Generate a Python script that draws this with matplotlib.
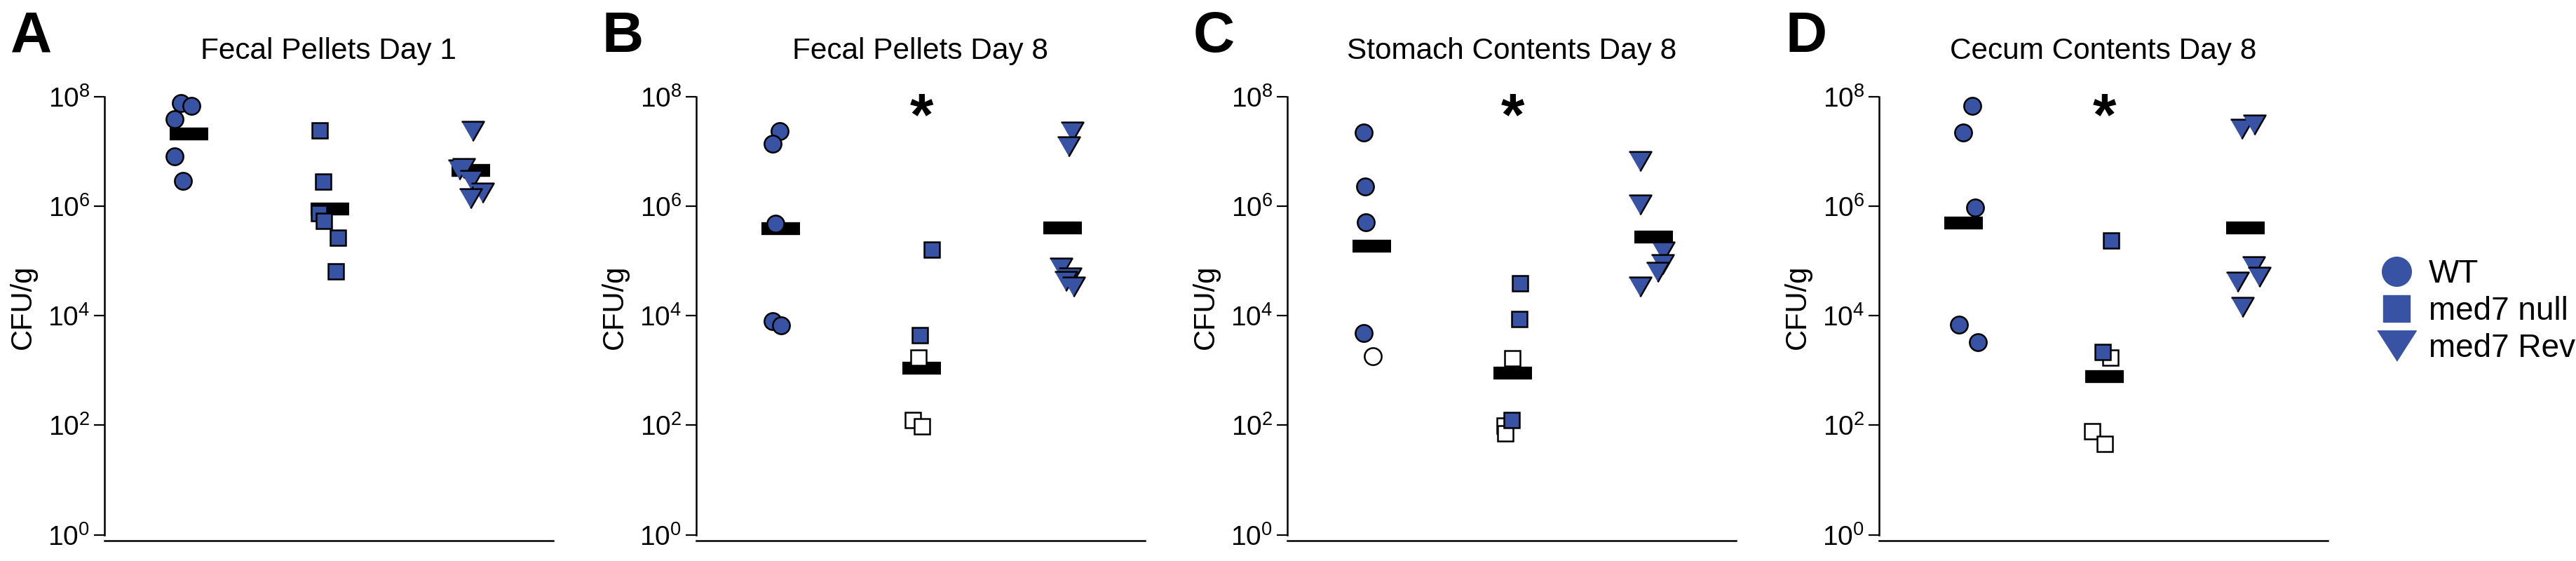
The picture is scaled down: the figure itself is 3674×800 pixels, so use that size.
import numpy as np
import matplotlib.pyplot as plt
from matplotlib.lines import Line2D
from matplotlib.ticker import NullLocator

plt.rcParams['font.family'] = ['Liberation Sans', 'DejaVu Sans']
plt.rcParams['mathtext.fontset'] = 'custom'
plt.rcParams['mathtext.rm'] = 'Liberation Sans'

# --- data (CFU/g) ---
panel_letters = ['A', 'B', 'C', 'D']
titles = ['Fecal Pellets Day 1', 'Fecal Pellets Day 8',
          'Stomach Contents Day 8', 'Cecum Contents Day 8']
groups = ['WT', 'med7 null', 'med7 Rev']
starred = [False, True, True, True]

wt_vals = [[7.69e7, 6.84e7, 3.86e7, 8.04e6, 2.91e6],
           [2.33e7, 1.38e7, 4.74e5, 8.05e3, 6.62e3],
           [2.23e7, 2.30e6, 5.04e5, 4.75e3, 1.79e3],
           [6.78e7, 2.23e7, 9.48e5, 6.82e3, 3.32e3]]
wt_open = [[0, 0, 0, 0, 0],
           [0, 0, 0, 0, 0],
           [0, 0, 0, 0, 1],
           [0, 0, 0, 0, 0]]
wt_jitter = [[-0.056, 0.019, -0.102, -0.102, -0.042],
             [-0.007, -0.058, -0.038, -0.056, 0.003],
             [-0.059, -0.049, -0.041, -0.056, 0.009],
             [0.062, -0.004, 0.083, -0.032, 0.100]]
wt_mean = [2.09e7, 3.85e5, 1.87e5, 4.97e5]

null_vals = [[2.43e7, 2.78e6, 7.43e5, 5.37e5, 2.65e5, 6.49e4],
             [1.61e5, 4.35e3, 1.71e3, 123, 95],
             [3.85e4, 8.55e3, 1.64e3, 123, 98, 70],
             [2.34e5, 2.14e3, 1.71e3, 78, 46]]
null_open = [[0, 0, 0, 0, 0, 0],
             [0, 0, 1, 1, 1],
             [0, 0, 1, 0, 1, 1],
             [0, 0, 1, 1, 1]]
null_jitter = [[-0.071, -0.046, -0.079, -0.042, 0.057, 0.042],
               [0.071, -0.015, -0.023, -0.061, 0.002],
               [0.050, 0.047, -0.001, -0.008, -0.059, -0.052],
               [0.047, -0.012, 0.044, -0.088, 0.001]]
null_mean = [8.79e5, 1.09e3, 895, 771]

rev_vals = [[2.32e7, 4.57e6, 4.90e6, 3.00e6, 1.75e6, 1.37e6],
            [2.26e7, 1.24e7, 7.40e4, 4.89e4, 4.26e4, 3.37e4],
            [6.65e6, 1.07e6, 1.47e5, 8.57e4, 6.19e4, 3.37e4],
            [2.59e7, 3.10e7, 7.93e4, 5.05e4, 4.15e4, 1.45e4]]
rev_open = [[0] * 6, [0] * 6, [0] * 6, [0] * 6]
rev_jitter = [[0.014, -0.085, -0.055, 0.001, 0.083, -0.002],
              [0.066, 0.042, -0.014, 0.052, 0.022, 0.075],
              [-0.099, -0.099, 0.068, 0.060, 0.027, -0.096],
              [-0.028, 0.061, 0.058, 0.095, -0.059, -0.022]]
rev_mean = [4.45e6, 4.0e5, 2.75e5, 4.02e5]

y_ticks = [1e0, 1e2, 1e4, 1e6, 1e8]
y_ticklabels = [r'$\mathregular{10^{0}}$', r'$\mathregular{10^{2}}$',
                r'$\mathregular{10^{4}}$', r'$\mathregular{10^{6}}$',
                r'$\mathregular{10^{8}}$']

# --- styling ---
blue = '#3953a4'
tri_plot = [(-1, 0.87), (1, 0.87), (0, -0.87)]
tri_legend = [(-1, 0.78), (1, 0.78), (0, -0.78)]
markers = ['o', 's', tri_plot]
msizes = [17.5, 15.5, 23]

W, H = 3674, 800
fig = plt.figure(figsize=(W / 100, H / 100), dpi=100)

spine_x = [149, 993, 1836, 2680]
ax_w = 640
y_top, y_bot = 137.8, 762.5

all_vals = [wt_vals, null_vals, rev_vals]
all_open = [wt_open, null_open, rev_open]
all_jit = [wt_jitter, null_jitter, rev_jitter]
all_mean = [wt_mean, null_mean, rev_mean]

for p in range(4):
    ax = fig.add_axes([spine_x[p] / W, (H - y_bot) / H, ax_w / W, (y_bot - y_top) / H])
    ax.set_yscale('log')
    ax.set_ylim(1, 1e8)
    ax.set_xlim(0.4, 3.584)

    for g in range(3):
        cat = g + 1
        vals = np.array(all_vals[g][p])
        opn = np.array(all_open[g][p], dtype=bool)
        xs = cat + np.array(all_jit[g][p])
        ax.hlines(all_mean[g][p], cat - 0.138, cat + 0.138, colors='black',
                  linewidth=13.2, capstyle='butt', zorder=2)
        # open (white) markers first, filled ones on top
        ax.plot(xs[opn], vals[opn], linestyle='none', marker=markers[g],
                markersize=msizes[g], markerfacecolor='white',
                markeredgecolor='black', markeredgewidth=1.8,
                zorder=3, clip_on=False)
        ax.plot(xs[~opn], vals[~opn], linestyle='none', marker=markers[g],
                markersize=msizes[g], markerfacecolor=blue,
                markeredgecolor='black', markeredgewidth=1.8,
                zorder=4, clip_on=False)

    if starred[p]:
        ax.annotate('*', xy=(2, 1e8), xytext=(0, -39.5), textcoords='offset points',
                    ha='center', va='baseline', fontsize=62, fontweight='bold')

    ax.set_yticks(y_ticks)
    ax.set_yticklabels(y_ticklabels)
    ax.yaxis.set_minor_locator(NullLocator())
    ax.set_xticks([])
    ax.tick_params(axis='y', length=10.8, width=1.6, pad=4.3, labelsize=28)
    for s in ['top', 'right']:
        ax.spines[s].set_visible(False)
    ax.spines['left'].set_linewidth(1.8)
    ax.spines['bottom'].set_linewidth(1.8)
    ax.spines['bottom'].set_position(('outward', 6))

    ax.set_ylabel('CFU/g', fontsize=30)
    ax.yaxis.set_label_coords(-0.15, 0.52)
    ax.set_title(titles[p], fontsize=30.5, pad=38.7)

    fig.text((spine_x[p] - 134) / W, 1 - 74 / H, panel_letters[p],
             fontsize=59, fontweight='bold', ha='left', va='baseline')

handles = [
    Line2D([], [], linestyle='none', marker='o', markersize=30,
           markerfacecolor=blue, markeredgecolor=blue),
    Line2D([], [], linestyle='none', marker='s', markersize=27,
           markerfacecolor=blue, markeredgecolor=blue),
    Line2D([], [], linestyle='none', marker=tri_legend, markersize=40,
           markerfacecolor=blue, markeredgecolor=blue),
]
fig.legend(handles, groups, loc='center left', bbox_to_anchor=(3377 / W, 0.445),
           frameon=False, fontsize=33, handlelength=1.8, handletextpad=0.1,
           labelspacing=0.2, borderpad=0, borderaxespad=0)

fig.savefig('out.png', dpi=100)
